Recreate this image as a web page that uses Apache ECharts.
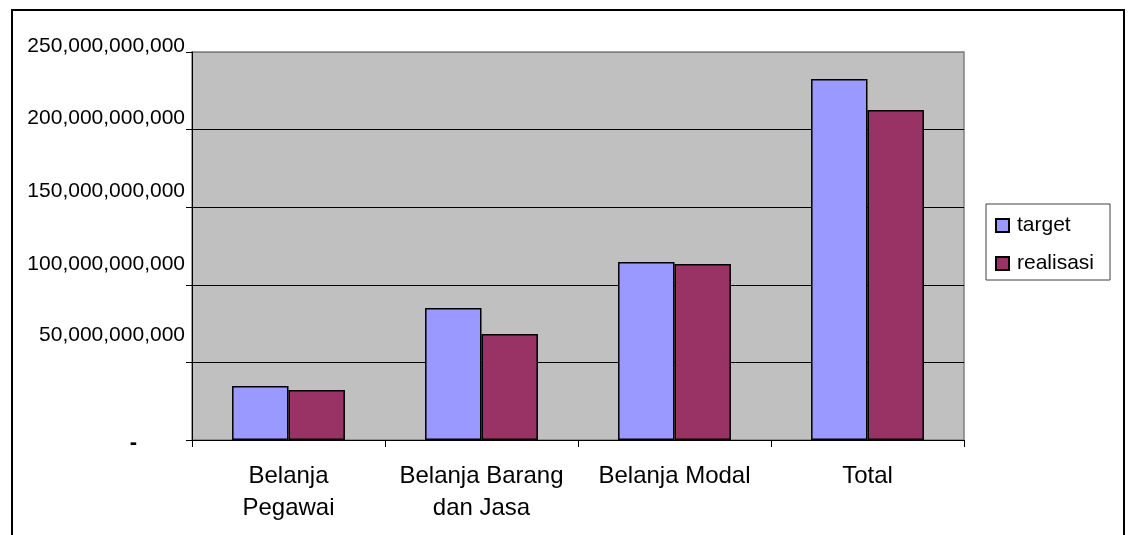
<!DOCTYPE html>
<html>
<head>
<meta charset="utf-8">
<script src="https://cdn.jsdelivr.net/npm/echarts@6/dist/echarts.min.js"></script>
<style>
  html, body { margin: 0; padding: 0; background: #ffffff; }
  #chart { width: 1131px; height: 535px; }
</style>
</head>
<body>
<div id="chart"></div>
<script>
// Budget categories (x axis)
const categories = ['Belanja\nPegawai', 'Belanja Barang\ndan Jasa', 'Belanja Modal', 'Total'];
// Planned spending per category
const target = [34.8e9, 85.0e9, 114.7e9, 232.6e9];
// Realised spending per category
const realisasi = [32.2e9, 68.3e9, 113.4e9, 212.6e9];
// Value axis ticks
const yTicks = [0, 50e9, 100e9, 150e9, 200e9, 250e9];

const FONT = '"Liberation Sans", Arial, sans-serif';

function fmtThousands(v) {
  return String(Math.round(v)).replace(/\B(?=(\d{3})+(?!\d))/g, ',');
}

// Each value label sits a little above its gridline, drifting further up towards zero
const labelLift = { 50e9: 55, 100e9: 42, 150e9: 32, 200e9: 22, 250e9: 12 };
const rich = {
  z: { fontSize: 22, fontWeight: 'bold', fontFamily: FONT, color: '#000', padding: [6, 48, 0, 0] }
};
yTicks.forEach(function (t, i) {
  if (t === 0) return;
  rich['n' + i] = { fontSize: 21, fontFamily: FONT, color: '#000', padding: [0, 0, labelLift[t], 0] };
});

const chart = echarts.init(document.getElementById('chart'), null, { renderer: 'canvas' });

chart.setOption({
  animation: false,
  backgroundColor: '#ffffff',
  textStyle: { fontFamily: FONT, color: '#000000' },
  graphic: [{
    type: 'rect',
    shape: { x: 12, y: 10, width: 1112, height: 560 },
    style: { fill: 'none', stroke: '#000000', lineWidth: 2 },
    silent: true
  }],
  grid: {
    left: 192, top: 52, right: 167, bottom: 95,
    show: true,
    backgroundColor: '#c0c0c0',
    borderColor: '#808080',
    borderWidth: 1.5
  },
  legend: {
    orient: 'vertical',
    left: 986, top: 204,
    padding: [11, 16, 6, 9],
    itemGap: 17,
    itemWidth: 13, itemHeight: 13,
    borderColor: '#404040', borderWidth: 1,
    backgroundColor: '#ffffff',
    icon: 'rect',
    textStyle: { fontSize: 21, fontFamily: FONT, color: '#000', padding: [0, 0, 0, 3] },
    data: ['target', 'realisasi']
  },
  xAxis: {
    type: 'category',
    data: categories,
    boundaryGap: true,
    axisLine: { show: true, lineStyle: { color: '#000', width: 1 } },
    axisTick: { show: true, inside: false, length: 7, lineStyle: { color: '#000' } },
    axisLabel: {
      fontSize: 24, lineHeight: 32, margin: 20, color: '#000', fontFamily: FONT,
      interval: 0
    },
    splitLine: { show: false }
  },
  yAxis: {
    type: 'value',
    min: yTicks[0],
    max: yTicks[yTicks.length - 1],
    interval: yTicks[1] - yTicks[0],
    axisLine: { show: true, lineStyle: { color: '#000', width: 1 } },
    axisTick: { show: true, inside: false, length: 6, lineStyle: { color: '#000' } },
    splitLine: {
      show: true,
      lineStyle: { color: ['#000', '#000', '#000', '#000', '#000', '#808080'], width: 1 }
    },
    axisLabel: {
      margin: 7,
      color: '#000',
      fontFamily: FONT,
      formatter: function (v) {
        if (v === 0) return '{z|-}';
        return '{n' + yTicks.indexOf(v) + '|' + fmtThousands(v) + '}';
      },
      rich: rich
    }
  },
  series: [
    {
      name: 'target',
      type: 'bar',
      data: target,
      barGap: '0%',
      barCategoryGap: '41.5%',
      itemStyle: { color: '#9999ff', borderColor: '#000', borderWidth: 1.5 }
    },
    {
      name: 'realisasi',
      type: 'bar',
      data: realisasi,
      itemStyle: { color: '#993366', borderColor: '#000', borderWidth: 1.5 }
    }
  ]
});
</script>
</body>
</html>
